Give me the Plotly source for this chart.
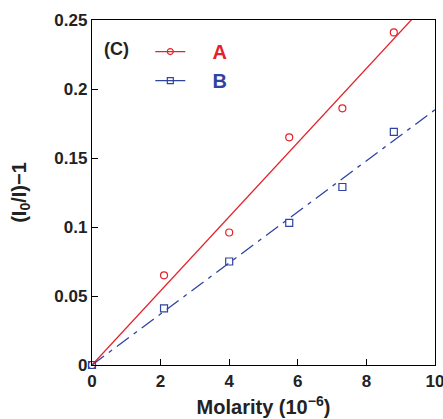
import numpy as np
import plotly.graph_objects as go

# Quencher concentration (10^-6 M) and Stern-Volmer response
molarity = [0, 2.1, 4.0, 5.75, 7.3, 8.8]
series_a = [0, 0.065, 0.096, 0.165, 0.186, 0.241]
series_b = [0, 0.041, 0.075, 0.103, 0.129, 0.169]
x_ticks = [0, 2, 4, 6, 8, 10]
y_ticks = [0, 0.05, 0.1, 0.15, 0.2, 0.25]
y_tick_text = ["0", "0.05", "0.1", "0.15", "0.2", "0.25"]

RED = "#e3222b"
BLUE = "#2f43a0"
FONT = "Liberation Sans"

x = np.array(molarity)


def origin_slope(y):
    y = np.array(y)
    return float((x * y).sum() / (x * x).sum())


fit_x = np.array([0.0, 10.0])
ka = origin_slope(series_a)
kb = origin_slope(series_b)

fig = go.Figure()

# Linear fits through the origin
fig.add_trace(go.Scatter(x=fit_x, y=ka * fit_x, mode="lines",
                         line=dict(color=RED, width=1.3), showlegend=False))
fig.add_trace(go.Scatter(x=fit_x, y=kb * fit_x, mode="lines",
                         line=dict(color=BLUE, width=1.3, dash="15px,6px,4px,6px"),
                         showlegend=False))

# Measured points
fig.add_trace(go.Scatter(x=molarity, y=series_a, mode="markers",
                         marker=dict(symbol="circle-open", size=7, color=RED,
                                     line=dict(width=1.2)),
                         showlegend=False, cliponaxis=False))
fig.add_trace(go.Scatter(x=molarity, y=series_b, mode="markers",
                         marker=dict(symbol="square-open", size=7, color=BLUE,
                                     line=dict(width=1.2)),
                         showlegend=False, cliponaxis=False))

# Legend entries
fig.add_trace(go.Scatter(x=[None], y=[None], mode="lines+markers",
                         name=f"&nbsp;&nbsp;&nbsp;&nbsp;<b><span style='color:{RED}'>A</span></b>",
                         line=dict(color=RED, width=1.3),
                         marker=dict(symbol="circle-open", size=6, color=RED,
                                     line=dict(width=1.2))))
fig.add_trace(go.Scatter(x=[None], y=[None], mode="lines+markers",
                         name=f"&nbsp;&nbsp;&nbsp;&nbsp;<b><span style='color:{BLUE}'>B</span></b>",
                         line=dict(color=BLUE, width=1.3),
                         marker=dict(symbol="square-open", size=6, color=BLUE,
                                     line=dict(width=1.2))))

axis_common = dict(
    showline=True, linecolor="black", linewidth=1.3, mirror=True,
    ticks="inside", ticklen=6, tickwidth=1.3, tickcolor="black",
    showgrid=False, zeroline=False, ticklabeloverflow="allow",
    automargin=False,
    tickfont=dict(family=FONT, size=17, color="#222"),
)

fig.update_xaxes(range=[0, 10], tickvals=x_ticks,
                 ticktext=[f"<b>{v}</b>" for v in x_ticks],
                 title=dict(text="<b>Molarity (10<sup>−6</sup>)</b>",
                            font=dict(family=FONT, size=20, color="#222"),
                            standoff=10),
                 **axis_common)
fig.update_yaxes(range=[0, 0.25], tickvals=y_ticks,
                 ticktext=[f"<b>{t}</b>" for t in y_tick_text],
                 title=dict(text="<b>(I<sub>0</sub>/I)−1</b>",
                            font=dict(family=FONT, size=20, color="#222"),
                            standoff=22),
                 **axis_common)

fig.add_annotation(text="<b>(C)</b>", xref="paper", yref="paper",
                   x=0.03, y=0.915, xanchor="left", yanchor="middle",
                   showarrow=False, font=dict(family=FONT, size=18, color="#222"))

fig.update_layout(
    width=443, height=419,
    margin=dict(l=92, r=8, t=20, b=54),
    paper_bgcolor="white", plot_bgcolor="white",
    legend=dict(x=0.17, y=0.965, xanchor="left", yanchor="top",
                bgcolor="rgba(0,0,0,0)", itemwidth=30,
                font=dict(family=FONT, size=20), tracegroupgap=0),
)

fig.write_html("out.html")
